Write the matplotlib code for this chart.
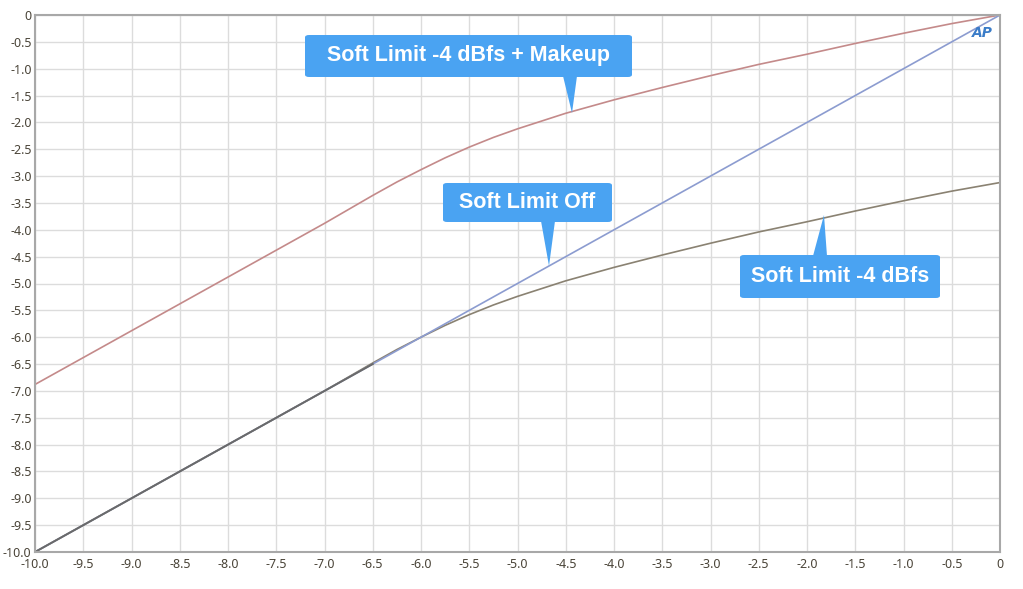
import matplotlib
matplotlib.use("Agg")
import matplotlib.pyplot as plt
from matplotlib.patches import FancyBboxPatch, Polygon
import numpy as np

# ---- data ----
x_in = [-10, -9, -8, -7, -6.5, -6.25, -6, -5.75, -5.5, -5.25, -5, -4.5, -4, -3.5, -3, -2.5, -2, -1.5, -1, -0.5, 0]
off = [-10, -9, -8, -7, -6.5, -6.25, -6, -5.75, -5.5, -5.25, -5, -4.5, -4, -3.5, -3, -2.5, -2, -1.5, -1, -0.5, 0]
soft = [-10, -9, -8, -7, -6.48, -6.23, -6.0, -5.78, -5.58, -5.40, -5.24, -4.95, -4.70, -4.47, -4.25, -4.04, -3.85, -3.65, -3.46, -3.28, -3.12]
makeup = [-6.88, -5.88, -4.88, -3.88, -3.36, -3.11, -2.88, -2.66, -2.46, -2.28, -2.12, -1.83, -1.58, -1.35, -1.13, -0.92, -0.73, -0.53, -0.34, -0.16, 0]
xticks = np.arange(-10, 0.01, 0.5)
yticks = np.arange(-10, 0.01, 0.5)
labels = ["Soft Limit -4 dBfs + Makeup", "Soft Limit Off", "Soft Limit -4 dBfs"]

W, H = 1023, 589
fig = plt.figure(figsize=(W / 100, H / 100), dpi=100)
ax = fig.add_axes([35 / W, 1 - 552 / H, 965 / W, 537 / H])

ax.plot(x_in, makeup, color="#c48a8a", lw=1.2)
ax.plot(x_in, soft, color="#8a8272", lw=1.2)
ax.plot(x_in, off, color="#8c9cd0", lw=1.2)
# overlap region darker
ax.plot(x_in[:5], off[:5], color="#6a6a6a", lw=1.4)

ax.set_xlim(-10, 0)
ax.set_ylim(-10, 0)
ax.set_xticks(xticks)
ax.set_yticks(yticks)

def fmt(v):
    return "0" if abs(v) < 1e-9 else f"{v:.1f}"

ax.set_xticklabels([fmt(v) for v in xticks], family="Noto Sans")
ax.set_yticklabels([fmt(v) for v in yticks], family="Noto Sans")
ax.tick_params(length=0, labelsize=9, colors="#4a4438")
ax.tick_params(axis="x", pad=4.5)
ax.tick_params(axis="y", pad=2.5)
ax.grid(True, color="#dcdcdc", lw=1)
ax.set_axisbelow(True)
for s in ax.spines.values():
    s.set_color("#a8a8a8")
    s.set_linewidth(1.5)

# AP logo
fig.text(982 / W, 1 - 33 / H, "AP", ha="center", va="center",
         color="#3a7cc8", fontsize=10, fontweight="bold", fontstyle="italic")

# ---- callouts ----
blue = "#4aa3f2"

def fx(px):
    return px / W

def fy(py):
    return 1 - py / H

def callout(x0, y0, x1, y1, tip, base_x, text, up=False):
    box = FancyBboxPatch((fx(x0), fy(y1)), fx(x1) - fx(x0), fy(y0) - fy(y1),
                         boxstyle="round,pad=0,rounding_size=0.004",
                         transform=fig.transFigure, facecolor=blue, edgecolor="none", zorder=5)
    fig.add_artist(box)
    if up:
        tri = [(fx(base_x - 7), fy(y0 + 1)), (fx(base_x + 7), fy(y0 + 1)), (fx(tip[0]), fy(tip[1]))]
    else:
        tri = [(fx(base_x - 7), fy(y1 - 1)), (fx(base_x + 7), fy(y1 - 1)), (fx(tip[0]), fy(tip[1]))]
    fig.add_artist(Polygon(tri, closed=True, transform=fig.transFigure,
                           facecolor=blue, edgecolor="none", zorder=5))
    fig.text(fx((x0 + x1) / 2), fy((y0 + y1) / 2), text, ha="center", va="center",
             color="white", fontsize=15.5, fontweight="bold", family="Liberation Sans", zorder=6)

callout(305, 35, 632, 77, (572, 113), 570, labels[0])
callout(443, 183, 612, 222, (549, 266), 548, labels[1])
callout(740, 255, 940, 298, (824, 215), 820, labels[2], up=True)

fig.savefig("out.png", dpi=100, facecolor="white")
